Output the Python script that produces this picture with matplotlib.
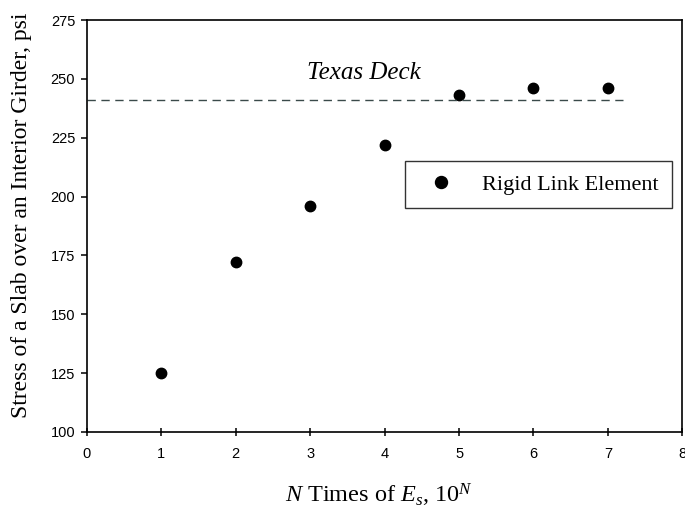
import matplotlib
matplotlib.use("Agg")
import matplotlib.pyplot as plt

plt.rcParams['mathtext.fontset'] = 'custom'
plt.rcParams['mathtext.rm'] = 'Liberation Serif'
plt.rcParams['mathtext.it'] = 'Liberation Serif:italic'

n_vals = [1, 2, 3, 4, 5, 6, 7]
stress = [125, 172, 196, 222, 243, 246, 246]
texas_deck = 241
xticks = [0, 1, 2, 3, 4, 5, 6, 7, 8]
yticks = [100, 125, 150, 175, 200, 225, 250, 275]

fig = plt.figure(figsize=(6.85, 5.16), dpi=100)
ax = fig.add_axes([0.127, 0.163, 0.869, 0.798])

ax.plot(n_vals, stress, 'o', color='black', markersize=7.5, label='Rigid Link Element')
ax.plot([0, 7.2], [texas_deck, texas_deck], linestyle=(0, (6, 4)), color='#3a4a4a', linewidth=1.0)
ax.text(3.72, 252.5, 'Texas Deck', fontfamily='Liberation Serif', fontstyle='italic',
        fontsize=18, ha='center', va='center')

ax.set_xlim(0, 8)
ax.set_ylim(100, 275)
ax.set_xticks(xticks)
ax.set_yticks(yticks)
for lab in ax.get_xticklabels() + ax.get_yticklabels():
    lab.set_fontfamily('Liberation Sans')
    lab.set_fontsize(10.5)
for sp in ax.spines.values():
    sp.set_linewidth(1.2)
ax.tick_params(axis='x', direction='inout', length=6, width=1.1, pad=8)
ax.tick_params(axis='y', direction='out', length=4.5, width=1.1, pad=4)

ax.set_xlabel(r'$\mathit{N}$ Times of $\mathit{E_s}$, 10$^{\mathit{N}}$', fontfamily='Liberation Serif',
              fontsize=17.5)
ax.xaxis.set_label_coords(0.49, -0.12)
ax.set_ylabel('Stress of a Slab over an Interior Girder, psi', fontfamily='Liberation Serif',
              fontsize=17)
ax.yaxis.set_label_coords(-0.093, 0.525)

leg = ax.legend(loc='center', bbox_to_anchor=(0.758, 0.601), frameon=True, fancybox=False,
                edgecolor='black', prop={'family': 'Liberation Serif', 'size': 16},
                borderpad=0.6, handlelength=2.1, handletextpad=0.76, markerscale=1.15)
leg.get_frame().set_linewidth(1.0)

fig.savefig('out.png', dpi=100)
